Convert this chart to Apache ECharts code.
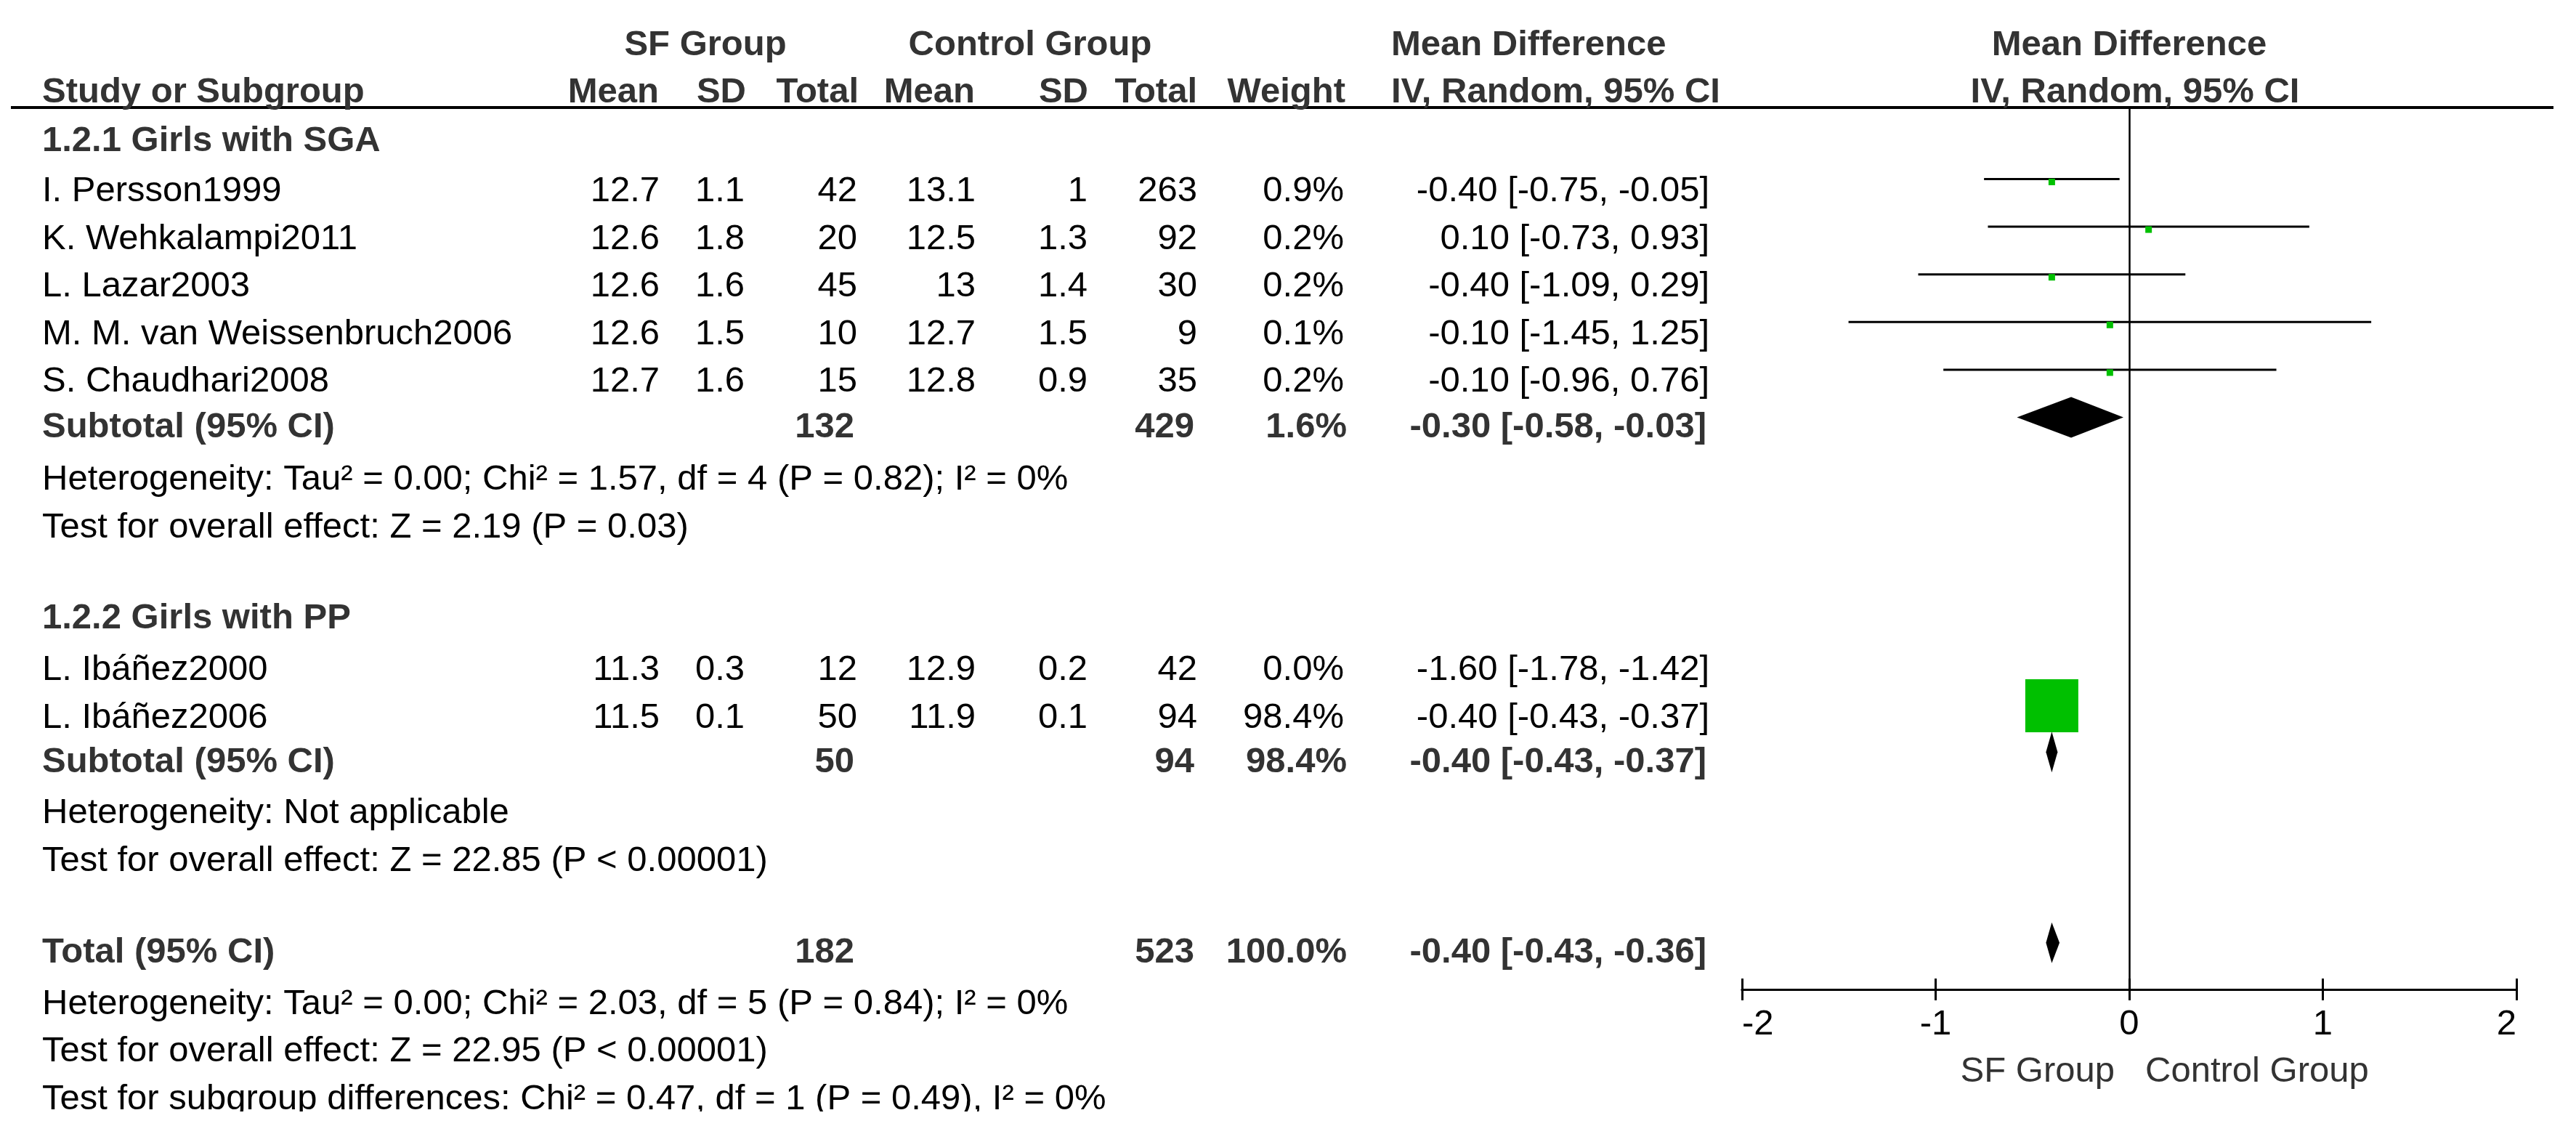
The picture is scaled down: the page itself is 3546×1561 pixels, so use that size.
<!DOCTYPE html>
<html>
<head>
<meta charset="utf-8">
<script src="https://cdn.jsdelivr.net/npm/echarts@6/dist/echarts.min.js"></script>
<style>
html,body{margin:0;padding:0;background:#ffffff;}
#chart{width:3546px;height:1561px;}
</style>
</head>
<body>
<div id="chart"></div>
<script>
// ---------------- DATA ----------------
const studyNames = ['I. Persson1999','K. Wehkalampi2011','L. Lazar2003','M. M. van Weissenbruch2006','S. Chaudhari2008','L. Ibáñez2000','L. Ibáñez2006'];
const studyGroup = [0,0,0,0,0,1,1];
const sfMean = [12.7,12.6,12.6,12.6,12.7,11.3,11.5];
const sfSD   = [1.1,1.8,1.6,1.5,1.6,0.3,0.1];
const sfN    = [42,20,45,10,15,12,50];
const ctMean = [13.1,12.5,13,12.7,12.8,12.9,11.9];
const ctSD   = [1,1.3,1.4,1.5,0.9,0.2,0.1];
const ctN    = [263,92,30,9,35,42,94];
const weight = [0.9,0.2,0.2,0.1,0.2,0.0,98.4];
const md     = [-0.40,0.10,-0.40,-0.10,-0.10,-1.60,-0.40];
const ciLow  = [-0.75,-0.73,-1.09,-1.45,-0.96,-1.78,-0.43];
const ciHigh = [-0.05,0.93,0.29,1.25,0.76,-1.42,-0.37];

const groupNames = ['1.2.1 Girls with SGA','1.2.2 Girls with PP'];
const groupSfN   = [132,50];
const groupCtN   = [429,94];
const groupW     = [1.6,98.4];
const groupMd    = [-0.30,-0.40];
const groupLow   = [-0.58,-0.43];
const groupHigh  = [-0.03,-0.37];
const groupHet   = ['Heterogeneity: Tau² = 0.00; Chi² = 1.57, df = 4 (P = 0.82); I² = 0%','Heterogeneity: Not applicable'];
const groupTest  = ['Test for overall effect: Z = 2.19 (P = 0.03)','Test for overall effect: Z = 22.85 (P < 0.00001)'];

const totalSfN = 182, totalCtN = 523, totalW = 100.0, totalMd = -0.40, totalLow = -0.43, totalHigh = -0.36;
const totalHet  = 'Heterogeneity: Tau² = 0.00; Chi² = 2.03, df = 5 (P = 0.84); I² = 0%';
const totalTest = 'Test for overall effect: Z = 22.95 (P < 0.00001)';
const subDiff   = 'Test for subgroup differences: Chi² = 0.47, df = 1 (P = 0.49), I² = 0%';

const xTicks = [-2,-1,0,1,2];
const favourLeft = 'SF Group', favourRight = 'Control Group';

// ---------------- LAYOUT ----------------
const FONT = "'Liberation Sans', Arial, Helvetica, sans-serif";
const FS = 49;
const rowPos = [0.5,1.5,2.5,3.5,4.5,5.5,6.5,7.55,8.55,10.5,11.55,12.55,13.52,14.55,15.55,17.52,18.55,19.55,20.55];
const colX = {name:58, sfMean:908, sfSD:1025, sfN:1180, ctMean:1343, ctSD:1497, ctN:1648, weight:1850, ci:2353};
const gridBox = {left:2398, right:82, top:148, bottom:199};
const yMax = 18.5;

// build row list
const rows = [];
groupNames.forEach((g, gi) => {
  rows.push({t:'group', g:gi});
  studyNames.forEach((s, si) => { if (studyGroup[si] === gi) rows.push({t:'study', s:si}); });
  rows.push({t:'sub', g:gi});
  rows.push({t:'het', g:gi});
  rows.push({t:'test', g:gi});
});
rows.push({t:'total'});
rows.push({t:'totHet'});
rows.push({t:'totTest'});
rows.push({t:'subDiff'});

const f2 = v => v.toFixed(2);
const ciText = (m, l, h) => f2(m) + ' [' + f2(l) + ', ' + f2(h) + ']';
const wText = w => w.toFixed(1) + '%';

function txt(text, x, y, align, bold) {
  return {
    type: 'text',
    style: {
      text: String(text), x: x, y: y,
      fontSize: FS, fontFamily: FONT, fontWeight: bold ? 'bold' : 'normal',
      fill: bold ? '#333333' : '#000000',
      align: align, textAlign: align, verticalAlign: 'middle', textVerticalAlign: 'middle'
    }
  };
}

function cellsFor(row, y) {
  const c = [];
  if (row.t === 'group') {
    c.push(txt(groupNames[row.g], colX.name, y, 'left', true));
  } else if (row.t === 'study') {
    const i = row.s;
    c.push(txt(studyNames[i], colX.name, y, 'left', false));
    c.push(txt(sfMean[i], colX.sfMean, y, 'right', false));
    c.push(txt(sfSD[i], colX.sfSD, y, 'right', false));
    c.push(txt(sfN[i], colX.sfN, y, 'right', false));
    c.push(txt(ctMean[i], colX.ctMean, y, 'right', false));
    c.push(txt(ctSD[i], colX.ctSD, y, 'right', false));
    c.push(txt(ctN[i], colX.ctN, y, 'right', false));
    c.push(txt(wText(weight[i]), colX.weight, y, 'right', false));
    c.push(txt(ciText(md[i], ciLow[i], ciHigh[i]), colX.ci, y, 'right', false));
  } else if (row.t === 'sub') {
    const g = row.g;
    c.push(txt('Subtotal (95% CI)', colX.name, y, 'left', true));
    c.push(txt(groupSfN[g], colX.sfN - 4, y, 'right', true));
    c.push(txt(groupCtN[g], colX.ctN - 4, y, 'right', true));
    c.push(txt(wText(groupW[g]), colX.weight + 4, y, 'right', true));
    c.push(txt(ciText(groupMd[g], groupLow[g], groupHigh[g]), colX.ci - 4, y, 'right', true));
  } else if (row.t === 'het') {
    c.push(txt(groupHet[row.g], colX.name, y, 'left', false));
  } else if (row.t === 'test') {
    c.push(txt(groupTest[row.g], colX.name, y, 'left', false));
  } else if (row.t === 'total') {
    c.push(txt('Total (95% CI)', colX.name, y, 'left', true));
    c.push(txt(totalSfN, colX.sfN - 4, y, 'right', true));
    c.push(txt(totalCtN, colX.ctN - 4, y, 'right', true));
    c.push(txt(wText(totalW), colX.weight + 4, y, 'right', true));
    c.push(txt(ciText(totalMd, totalLow, totalHigh), colX.ci - 4, y, 'right', true));
  } else if (row.t === 'totHet') {
    c.push(txt(totalHet, colX.name, y, 'left', false));
  } else if (row.t === 'totTest') {
    c.push(txt(totalTest, colX.name, y, 'left', false));
  } else if (row.t === 'subDiff') {
    c.push(txt(subDiff, colX.name, y, 'left', false));
  }
  return c;
}

// forest data
const studyRowPos = {};
const groupRowPos = {};
let totalRowPos = 0;
rows.forEach((r, i) => {
  if (r.t === 'study') studyRowPos[r.s] = rowPos[i];
  if (r.t === 'sub') groupRowPos[r.g] = rowPos[i];
  if (r.t === 'total') totalRowPos = rowPos[i];
});
const studyMarks = [];
studyNames.forEach((n, i) => {
  if (weight[i] > 0) studyMarks.push([md[i], studyRowPos[i], ciLow[i], ciHigh[i], weight[i]]);
});
const diamondMarks = groupNames.map((g, gi) => [groupMd[gi], groupRowPos[gi], groupLow[gi], groupHigh[gi]]);
diamondMarks.push([totalMd, totalRowPos, totalLow, totalHigh]);

const maxW = Math.max.apply(null, weight);

const chart = echarts.init(document.getElementById('chart'), null, {renderer: 'canvas'});

const tickLabelFmt = v => (xTicks.indexOf(v) >= 0 ? String(v) : '');
const axisBottomY = 1561 - gridBox.bottom;
const option = {
  animation: false,
  backgroundColor: '#ffffff',
  grid: [
    {left: gridBox.left, right: gridBox.right, top: gridBox.top, bottom: gridBox.bottom, containLabel: false},
    // thin strip whose top edge sits on the main axis line; carries the upward half of the ticks
    {left: gridBox.left, right: gridBox.right, top: axisBottomY, height: 1, containLabel: false}
  ],
  xAxis: [{
    type: 'value', gridIndex: 0, min: -2, max: 2, interval: 1, position: 'bottom',
    axisLine: {show: true, onZero: false, lineStyle: {color: '#000', width: 3}},
    axisTick: {show: true, inside: false, length: 15, lineStyle: {color: '#000', width: 3}},
    axisLabel: {show: true, fontSize: FS, fontFamily: FONT, color: '#000', margin: 24,
      alignMinLabel: 'left', alignMaxLabel: 'right', formatter: tickLabelFmt},
    splitLine: {show: false}
  }, {
    type: 'value', gridIndex: 1, min: -2, max: 2, interval: 1, position: 'top',
    axisLine: {show: true, onZero: false, lineStyle: {color: '#000', width: 3}},
    axisTick: {show: true, inside: false, length: 15, lineStyle: {color: '#000', width: 3}},
    axisLabel: {show: false},
    splitLine: {show: false}
  }],
  yAxis: [
    {type: 'value', gridIndex: 0, inverse: true, min: 0, max: yMax, show: false},
    {type: 'value', gridIndex: 1, min: 0, max: 1, show: false}
  ],
  series: [
    {
      type: 'custom', name: 'table', clip: false, silent: true,
      xAxisIndex: 0, yAxisIndex: 0,
      data: rows.map((r, i) => [0, rowPos[i], i]),
      renderItem: function (params, api) {
        const i = api.value(2);
        const row = rows[i];
        const bold = (row.t === 'group' || row.t === 'sub' || row.t === 'total');
        const y = api.coord([0, api.value(1)])[1] + (bold ? 14 : 17);
        return {type: 'group', children: cellsFor(row, y)};
      }
    },
    {
      type: 'line', name: 'zero', data: [], silent: true, xAxisIndex: 0, yAxisIndex: 0,
      markLine: {
        silent: true, symbol: ['none', 'none'], label: {show: false},
        lineStyle: {color: '#000', width: 2.5, type: 'solid'},
        data: [{xAxis: 0}]
      }
    },
    {
      type: 'custom', name: 'studies', clip: false, silent: true,
      xAxisIndex: 0, yAxisIndex: 0,
      data: studyMarks,
      renderItem: function (params, api) {
        const yv = api.value(1);
        const c = api.coord([api.value(0), yv]);
        const a = api.coord([api.value(2), yv]);
        const b = api.coord([api.value(3), yv]);
        const s = Math.max(9, 73 * Math.sqrt(api.value(4) / maxW));
        const dy = s < 12 ? 4 : 0;
        return {type: 'group', children: [
          {type: 'line', shape: {x1: a[0], y1: a[1], x2: b[0], y2: b[1]}, style: {stroke: '#000', lineWidth: 3}},
          {type: 'rect', shape: {x: c[0] - s / 2, y: c[1] - s / 2 + dy, width: s, height: s}, style: {fill: '#00c000'}}
        ]};
      }
    },
    {
      type: 'custom', name: 'diamonds', clip: false, silent: true,
      xAxisIndex: 0, yAxisIndex: 0,
      data: diamondMarks,
      renderItem: function (params, api) {
        const yv = api.value(1);
        const c = api.coord([api.value(0), yv]);
        const a = api.coord([api.value(2), yv]);
        const b = api.coord([api.value(3), yv]);
        const h = 28;
        return {type: 'polygon', shape: {points: [[a[0], c[1]], [c[0], c[1] - h], [b[0], c[1]], [c[0], c[1] + h]]},
          style: {fill: '#000'}};
      }
    }
  ]
};
chart.setOption(option);

// headers and annotations
const zeroX = chart.convertToPixel({xAxisIndex: 0}, 0);
function gtext(text, x, y, align, bold, color) {
  return {type: 'text', silent: true, z: 10,
    style: {text: text, x: x, y: y, fontSize: FS, fontFamily: FONT, fontWeight: bold ? 'bold' : 'normal',
      fill: color, align: align, textAlign: align, verticalAlign: 'middle', textVerticalAlign: 'middle'}};
}
const H1 = 62, H2 = 127;
chart.setOption({
  graphic: [
    {type: 'line', silent: true, z: 5, shape: {x1: 15, y1: gridBox.top, x2: 3515, y2: gridBox.top}, style: {stroke: '#000', lineWidth: 4}},
    gtext('SF Group', 971, H1, 'center', true, '#333'),
    gtext('Control Group', 1418, H1, 'center', true, '#333'),
    gtext('Mean Difference', 1915, H1, 'left', true, '#333'),
    gtext('Mean Difference', zeroX, H1, 'center', true, '#333'),
    gtext('Study or Subgroup', colX.name, H2, 'left', true, '#333'),
    gtext('Mean', 907, H2, 'right', true, '#333'),
    gtext('SD', 1027, H2, 'right', true, '#333'),
    gtext('Total', 1182, H2, 'right', true, '#333'),
    gtext('Mean', 1342, H2, 'right', true, '#333'),
    gtext('SD', 1498, H2, 'right', true, '#333'),
    gtext('Total', 1648, H2, 'right', true, '#333'),
    gtext('Weight', 1852, H2, 'right', true, '#333'),
    gtext('IV, Random, 95% CI', 1915, H2, 'left', true, '#333'),
    gtext('IV, Random, 95% CI', zeroX + 8, H2, 'center', true, '#333'),
    gtext(favourLeft, zeroX - 20, axisBottomY + 113, 'right', false, '#333'),
    gtext(favourRight, zeroX + 22, axisBottomY + 113, 'left', false, '#333'),
    {type: 'rect', silent: true, z: 20, shape: {x: 0, y: 1530, width: 3546, height: 31}, style: {fill: '#fff'}}
  ]
});
</script>
</body>
</html>
